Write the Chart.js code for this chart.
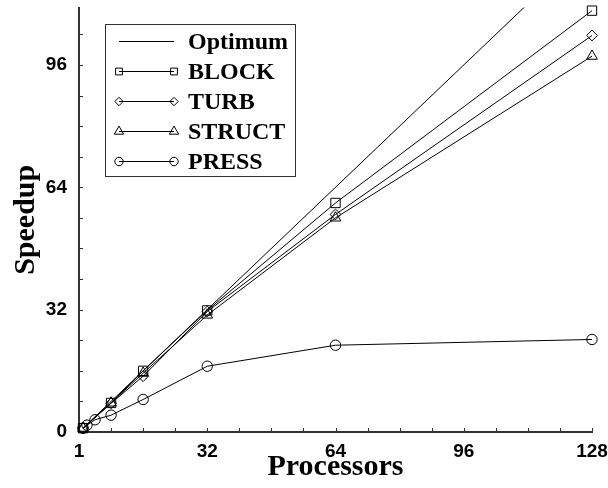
<!DOCTYPE html>
<html>
<head>
<meta charset="utf-8">
<script src="https://cdn.jsdelivr.net/npm/chart.js@4.4.0/dist/chart.umd.min.js"></script>
<style>
  html, body { margin: 0; padding: 0; background: #fff; }
  #wrap { width: 608px; height: 488px; position: relative; }
</style>
</head>
<body>
<div id="wrap"><canvas id="speedupChart"></canvas></div>
<script>
// Processor counts
const procsPress = [1, 2, 4, 8, 16, 32, 64, 128];
const procsMain = [1, 8, 16, 32, 64, 128];
const optimumX = [1, 128];

// Speedup values
const blockSpeedup = [1, 7.6, 16.0, 31.8, 59.9, 110.2];
const turbSpeedup = [1, 7.5, 14.6, 31.5, 56.9, 103.7];
const structSpeedup = [1, 7.6, 15.4, 30.6, 56.0, 98.3];
const pressSpeedup = [1, 1.8, 3.2, 4.4, 8.5, 17.2, 22.7, 24.2];

// Axis ticks
const xTickValues = [0, 32, 64, 96, 128];
const xTickLabels = ['1', '32', '64', '96', '128'];
const yTickValues = [0, 32, 64, 96];

function toPoints(xs, ys) {
    return xs.map((x, i) => ({ x: x, y: ys[i] }));
}

const series = [
    { label: 'Optimum', xs: optimumX, ys: optimumX, style: false, radius: 0, legendRadius: 0 },
    { label: 'BLOCK', xs: procsMain, ys: blockSpeedup, style: 'rect', radius: 6.6, legendRadius: 4.8 },
    { label: 'TURB', xs: procsMain, ys: turbSpeedup, style: 'rectRot', radius: 5.4, legendRadius: 4.2 },
    { label: 'STRUCT', xs: procsMain, ys: structSpeedup, style: 'triangle', radius: 6.2, legendRadius: 5.4 },
    { label: 'PRESS', xs: procsPress, ys: pressSpeedup, style: 'circle', radius: 5.2, legendRadius: 4.2 }
];

// inward tick marks every 8 units
const innerTicks = {
    id: 'innerTicks',
    afterDraw(chart) {
        const { ctx, chartArea, scales } = chart;
        ctx.save();
        ctx.strokeStyle = '#333';
        ctx.lineWidth = 1;
        for (let v = 8; v <= 128; v += 8) {
            const px = Math.round(scales.x.getPixelForValue(v)) + 0.5;
            ctx.beginPath();
            ctx.moveTo(px, chartArea.bottom);
            ctx.lineTo(px, chartArea.bottom - 4);
            ctx.stroke();
        }
        for (let v = 8; v <= 104; v += 8) {
            const py = Math.round(scales.y.getPixelForValue(v)) + 0.5;
            ctx.beginPath();
            ctx.moveTo(chartArea.left, py);
            ctx.lineTo(chartArea.left + 4, py);
            ctx.stroke();
        }
        ctx.restore();
    }
};

// legend box with a marker at both ends of each line
const boxLegend = {
    id: 'boxLegend',
    afterDraw(chart) {
        const ctx = chart.ctx;
        const box = { x: 105.5, y: 24.5, w: 190, h: 152 };
        const lineX0 = 119, lineX1 = 174, textX = 188, rowY = 41, rowGap = 30;
        ctx.save();
        ctx.fillStyle = '#fff';
        ctx.fillRect(box.x, box.y, box.w, box.h);
        ctx.strokeStyle = '#333';
        ctx.lineWidth = 1;
        ctx.strokeRect(box.x, box.y, box.w, box.h);

        chart.data.datasets.forEach((ds, i) => {
            const y = Math.round(rowY + i * rowGap) + 0.5;
            ctx.strokeStyle = '#000';
            ctx.lineWidth = 1;
            ctx.beginPath();
            ctx.moveTo(lineX0, y);
            ctx.lineTo(lineX1, y);
            ctx.stroke();
            if (ds.pointStyle) {
                ctx.fillStyle = 'rgba(0,0,0,0)';
                [lineX0, lineX1].forEach(px => {
                    Chart.helpers.drawPoint(ctx, {
                        pointStyle: ds.pointStyle,
                        radius: series[i].legendRadius,
                        rotation: 0,
                        borderWidth: 1
                    }, px, y);
                });
            }
            ctx.fillStyle = '#000';
            ctx.font = 'bold 24px "Liberation Serif", "Times New Roman", serif';
            ctx.textAlign = 'left';
            ctx.textBaseline = 'middle';
            ctx.fillText(ds.label, textX, y + 1);
        });
        ctx.restore();
    }
};

const ctx = document.getElementById('speedupChart');

new Chart(ctx, {
    type: 'line',
    data: {
        datasets: series.map(s => ({
            label: s.label,
            data: toPoints(s.xs, s.ys),
            borderColor: '#000',
            borderWidth: 1,
            backgroundColor: 'rgba(0,0,0,0)',
            pointStyle: s.style,
            pointRadius: s.radius,
            pointHoverRadius: s.radius,
            pointBorderColor: '#000',
            pointBorderWidth: 1,
            pointBackgroundColor: 'rgba(0,0,0,0)',
            tension: 0,
            fill: false,
            clip: s.label === 'Optimum' ? undefined : false
        }))
    },
    options: {
        responsive: true,
        maintainAspectRatio: false,
        animation: false,
        layout: { padding: { left: 0, right: 16, top: 5, bottom: 0 } },
        plugins: {
            legend: { display: false },
            tooltip: { enabled: false }
        },
        scales: {
            x: {
                type: 'linear',
                min: 0,
                max: 128,
                grid: { display: false },
                border: { display: true, color: '#333', width: 2 },
                afterBuildTicks: scale => {
                    scale.ticks = xTickValues.map(v => ({ value: v }));
                },
                afterFit: scale => { scale.height = 56; },
                ticks: {
                    autoSkip: false,
                    maxRotation: 0,
                    padding: 0,
                    color: '#000',
                    font: { family: '"Liberation Sans", Arial, sans-serif', size: 19, weight: 'bold' },
                    callback: (value, index) => xTickLabels[index]
                },
                title: {
                    display: true,
                    text: 'Processors',
                    color: '#000',
                    padding: { top: 0, bottom: 6 },
                    font: { family: '"Liberation Serif", "Times New Roman", serif', size: 30, weight: 'bold', lineHeight: 1 }
                }
            },
            y: {
                type: 'linear',
                min: 0,
                max: 111,
                grid: { display: false },
                border: { display: true, color: '#333', width: 2 },
                afterBuildTicks: scale => {
                    scale.ticks = yTickValues.map(v => ({ value: v }));
                },
                afterFit: scale => {
                    scale.width = 79;
                    scale.paddingTop = 0;
                    scale.paddingBottom = 0;
                },
                ticks: {
                    padding: 4,
                    color: '#000',
                    font: { family: '"Liberation Sans", Arial, sans-serif', size: 19, weight: 'bold' }
                },
                title: {
                    display: true,
                    text: 'Speedup',
                    color: '#000',
                    padding: { top: 11, bottom: 0 },
                    font: { family: '"Liberation Serif", "Times New Roman", serif', size: 30, weight: 'bold', lineHeight: 1 }
                }
            }
        }
    },
    plugins: [innerTicks, boxLegend]
});
</script>
</body>
</html>
